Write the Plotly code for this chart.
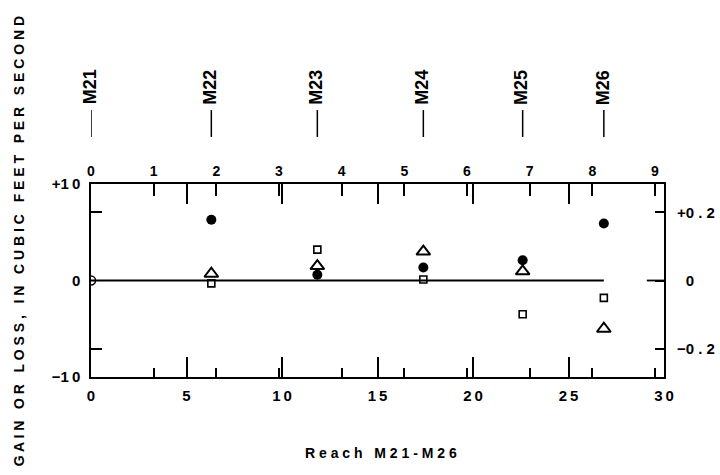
import plotly.graph_objects as go

# Unit conversions between the stacked axes
KFT_PER_KM = 3.28084          # thousands of feet per kilometre
CMS_PER_CFS = 0.0283168       # cubic metres per second per cubic foot per second

# Reach end points along the stream, in thousands of feet
reach_names = ["M21", "M22", "M23", "M24", "M25", "M26"]
reach_kft = [0.0, 6.3, 11.85, 17.4, 22.6, 26.85]

# Gain (+) or loss (-) for each reach, cubic feet per second
site_kft = [6.3, 11.85, 17.4, 22.6, 26.85]
gain_run1 = [6.3, 0.6, 1.35, 2.1, 5.9]        # filled circles
gain_run2 = [0.7, 1.5, 3.0, 0.95, -5.0]       # open triangles
gain_run3 = [-0.3, 3.2, 0.1, -3.5, -1.8]      # open squares
start_kft = [0.0]
start_gain = [0.0]

# Axis tick labels
THIN = "\u2009"
bottom_ticks = [0, 5, 10, 15, 20, 25, 30]
bottom_text = ["0", "5", "1" + THIN + "0", "1" + THIN + "5", "2" + THIN + "0",
               "2" + THIN + "5", "3" + THIN + "0"]
top_ticks = [0, 1, 2, 3, 4, 5, 6, 7, 8, 9]
km_ticks = [1, 2, 3, 4, 5, 6, 7, 8, 9]
kft_long_ticks = [5, 10, 15, 20, 25]
left_ticks = [-10, 0, 10]
left_text = ["\u22121" + THIN + "0", "0", "+1" + THIN + "0"]
right_ticks = [-0.2, 0, 0.2]
# transparent lead digit pads the zero label so it sits under the decimal labels
right_text = ["\u22120 . 2", "<span style='color:rgba(0,0,0,0)'>+</span>0", "+0 . 2"]

FONT = "Liberation Sans, Arial, sans-serif"
INK = "black"

fig = go.Figure()

# zero reference line from M21 to M26
fig.add_trace(go.Scatter(x=[reach_kft[0], reach_kft[-1]], y=[0, 0], mode="lines",
                         line=dict(color=INK, width=2), hoverinfo="skip"))

fig.add_trace(go.Scatter(x=site_kft, y=gain_run1, mode="markers", name="run 1",
                         marker=dict(symbol="circle", size=10, color=INK)))
fig.add_trace(go.Scatter(x=site_kft, y=gain_run2, mode="markers", name="run 2",
                         marker=dict(symbol="triangle-up-open", size=12, color=INK,
                                     line=dict(width=2, color=INK))))
fig.add_trace(go.Scatter(x=site_kft, y=gain_run3, mode="markers", name="run 3",
                         marker=dict(symbol="square-open", size=7, color=INK,
                                     line=dict(width=1.6, color=INK))))
fig.add_trace(go.Scatter(x=start_kft, y=start_gain, mode="markers", name="start",
                         marker=dict(symbol="circle-open", size=9, color=INK,
                                     line=dict(width=1.5, color=INK))))

# invisible traces so the secondary axes are drawn
for xa, ya in [("x2", "y"), ("x3", "y"), ("x4", "y"), ("x", "y2"), ("x", "y3")]:
    fig.add_trace(go.Scatter(x=[0], y=[0], xaxis=xa, yaxis=ya, mode="markers",
                             marker=dict(opacity=0), hoverinfo="skip"))

cms_range = [-10 * CMS_PER_CFS, 10 * CMS_PER_CFS]
km_range = [0, 30 / KFT_PER_KM]
tick_font = dict(family=FONT, size=15, color=INK, weight="bold")
plain = dict(showgrid=False, zeroline=False)

fig.update_layout(
    width=720, height=475,
    margin=dict(l=91, r=56, t=184, b=98, autoexpand=False),
    paper_bgcolor="white", plot_bgcolor="white",
    showlegend=False,
    font=dict(family=FONT, color=INK),
    # bottom: thousands of feet
    xaxis=dict(range=[0, 30], tickvals=bottom_ticks, ticktext=bottom_text,
               ticks="inside", ticklen=20, tickwidth=1.5, tickcolor=INK,
               showline=True, linewidth=1.5, linecolor=INK, mirror=True,
               tickfont=tick_font, ticklabelstandoff=4, **plain),
    # top: kilometres
    xaxis2=dict(range=km_range, overlaying="x", side="top", anchor="y",
                tickvals=top_ticks, ticks="inside", ticklen=12, tickwidth=1.5,
                tickcolor=INK, showline=False,
                tickfont=dict(family=FONT, size=14, color=INK, weight="bold"),
                ticklabelstandoff=4, **plain),
    # long thousand-foot ticks repeated along the top
    xaxis3=dict(range=[0, 30], overlaying="x", side="top", anchor="y",
                tickvals=kft_long_ticks, ticks="inside", ticklen=20, tickwidth=1.5,
                tickcolor=INK, showticklabels=False, showline=False, **plain),
    # short kilometre ticks repeated along the bottom
    xaxis4=dict(range=km_range, overlaying="x", side="bottom", anchor="y",
                tickvals=km_ticks, ticks="inside", ticklen=9, tickwidth=1.5,
                tickcolor=INK, showticklabels=False, showline=False, **plain),
    yaxis=dict(range=[-10, 10], tickvals=left_ticks, ticktext=left_text, ticks="",
               showline=True, linewidth=1.5, linecolor=INK, mirror=True,
               tickfont=tick_font, ticklabelstandoff=6, **plain),
    yaxis2=dict(range=cms_range, overlaying="y", side="right", anchor="x",
                tickvals=right_ticks, ticktext=right_text, ticks="inside",
                ticklen=9, tickwidth=1.5, tickcolor=INK, showline=False,
                tickfont=tick_font, ticklabelstandoff=12, **plain),
    yaxis3=dict(range=cms_range, overlaying="y", side="left", anchor="x",
                tickvals=[-0.2, 0.2], ticks="inside", ticklen=11, tickwidth=1.5,
                tickcolor=INK, showticklabels=False, showline=False, **plain),
)

# longer tick at zero on the right-hand scale
fig.add_shape(type="line", xref="x domain", yref="y", x0=0.97, x1=1.0, y0=0, y1=0,
              line=dict(color=INK, width=1.8))

# reach end-point markers above the graph
for name, pos in zip(reach_names, reach_kft):
    fig.add_shape(type="line", xref="x", yref="paper", x0=pos, x1=pos,
                  y0=1.2435, y1=1.383, line=dict(color=INK, width=1.5))
    fig.add_annotation(x=pos, y=1.4, xref="x", yref="paper", text=name,
                       textangle=-90, showarrow=False, yanchor="bottom",
                       xanchor="center", xshift=-1,
                       font=dict(family=FONT, size=18, color=INK, weight="bold"))

fig.add_annotation(x=0.506, y=-0.394, xref="paper", yref="paper",
                   text="R e a c h   M 2 1 - M 2 6", showarrow=False,
                   xanchor="center", yanchor="middle",
                   font=dict(family=FONT, size=14, color=INK, weight="bold"))

ytitle = "\u00a0\u00a0\u00a0".join(" ".join(w) for w in
                                  "GAIN OR LOSS, IN CUBIC FEET PER SECOND".split())
fig.add_annotation(x=-0.125, y=0.705, xref="paper", yref="paper", text=ytitle,
                   textangle=-90, showarrow=False, xanchor="center", yanchor="middle",
                   font=dict(family=FONT, size=14, color=INK, weight="bold"))

fig.write_html("out.html")
